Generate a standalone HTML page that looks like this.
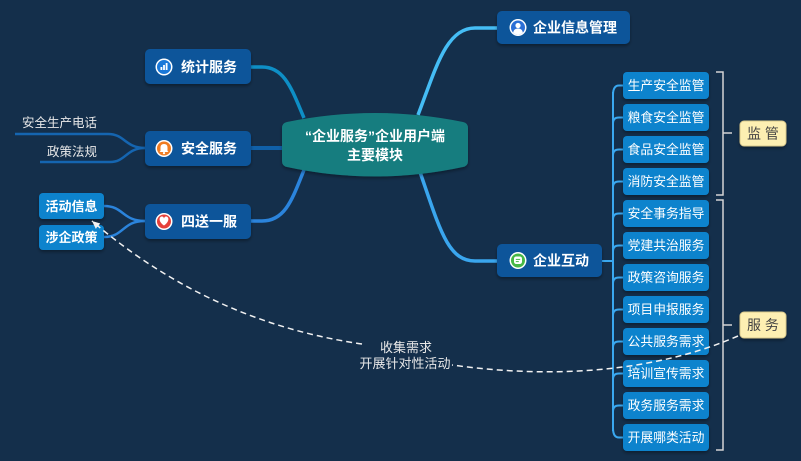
<!DOCTYPE html>
<html><head><meta charset="utf-8"><style>
html,body{margin:0;padding:0;background:#142f4b;}
svg{display:block;}
text{font-family:"Liberation Sans","Noto Sans CJK SC",sans-serif;}
</style></head><body>
<svg width="801" height="461" viewBox="0 0 801 461" xmlns="http://www.w3.org/2000/svg">
<defs>
<filter id="sh" x="-20%" y="-20%" width="140%" height="160%"><feDropShadow dx="0" dy="2" stdDeviation="1.5" flood-color="#000" flood-opacity="0.35"/></filter>
<marker id="arr" markerWidth="10" markerHeight="10" refX="8" refY="3.5" orient="auto" markerUnits="userSpaceOnUse"><path d="M0,0 L8,3.5 L0,7 Z" fill="#f2f2f2"/></marker>
<clipPath id="pc"><circle cx="0" cy="0" r="7"/></clipPath>
</defs>
<rect width="801" height="461" fill="#142f4b"/>

<!-- left connectors -->
<path d="M251,67 L262,67 C285,67 292,90 304,118" fill="none" stroke="#0e8fc6" stroke-width="3.5"/>
<path d="M251,148 L284,148" fill="none" stroke="#1060a8" stroke-width="4"/>
<path d="M251,221 L262,221 C285,221 292,200 304,170" fill="none" stroke="#2b84dc" stroke-width="3.5"/>
<!-- right connectors -->
<path d="M418,115 C436,68 446,28 475,28 L498,28" fill="none" stroke="#45bdf5" stroke-width="3.5"/>
<path d="M420,172 C440,230 448,261 475,261 L498,261" fill="none" stroke="#3aa6ee" stroke-width="3.5"/>

<!-- 安全服务 children lines -->
<path d="M15,134 L108,134 C125,134 125,148 145,148" fill="none" stroke="#1565b0" stroke-width="2.5"/>
<path d="M40,162 L110,162 C126,162 126,148 145,148" fill="none" stroke="#1565b0" stroke-width="2.5"/>
<!-- 四送一服 children lines -->
<path d="M104,206 C124,206 122,221 145,221" fill="none" stroke="#2b84dc" stroke-width="2.5"/>
<path d="M104,237 C124,237 122,221 145,221" fill="none" stroke="#2b84dc" stroke-width="2.5"/>

<!-- right vertical connector -->
<g fill="none" stroke="#3aa8f0" stroke-width="2">
<path d="M602,261 L613,261"/>
<path d="M613,92 L613,431"/>
<path d="M613,95 Q613,85.5 619,85.5 L623,85.5"/>
<path d="M613,123 Q613,117.5 619,117.5 L623,117.5"/>
<path d="M613,155 Q613,149.5 619,149.5 L623,149.5"/>
<path d="M613,187 Q613,181.5 619,181.5 L623,181.5"/>
<path d="M613,219 Q613,213.5 619,213.5 L623,213.5"/>
<path d="M613,251 Q613,245.5 619,245.5 L623,245.5"/>
<path d="M613,283 Q613,277.5 619,277.5 L623,277.5"/>
<path d="M613,315 Q613,309.5 619,309.5 L623,309.5"/>
<path d="M613,347 Q613,341.5 619,341.5 L623,341.5"/>
<path d="M613,379 Q613,373.5 619,373.5 L623,373.5"/>
<path d="M613,411 Q613,405.5 619,405.5 L623,405.5"/>
<path d="M613,428 Q613,437.5 619,437.5 L623,437.5"/>
</g>

<!-- brackets -->
<g fill="none" stroke="#d4d4d4" stroke-width="1.5">
<path d="M716,72 L723,72 L723,195 L716,195"/>
<path d="M723,133 L732,133"/>
<path d="M716,200 L723,200 L723,450 L716,450"/>
<path d="M723,325 L732,325"/>
</g>

<!-- central node -->
<path d="M287,122 Q375,104 463,122 Q468,123 468,128 L468,161 Q468,166 463,167 Q375,186 287,167 Q282,166 282,161 L282,128 Q282,123 287,122 Z" fill="#197d7f" filter="url(#sh)"/>
<text x="375" y="141" font-size="14" font-weight="bold" fill="#fff" text-anchor="middle">“企业服务”企业用户端</text>
<text x="375" y="160" font-size="14" font-weight="bold" fill="#fff" text-anchor="middle">主要模块</text>

<!-- main nodes -->
<g filter="url(#sh)">
<rect x="145" y="49" width="106" height="35" rx="5" fill="#0c559a"/>
<rect x="145" y="131" width="106" height="35" rx="5" fill="#0c559a"/>
<rect x="145" y="204" width="106" height="35" rx="5" fill="#0c559a"/>
<rect x="497" y="11" width="133" height="33" rx="5" fill="#0c559a"/>
<rect x="497" y="244" width="105" height="33" rx="5" fill="#0c559a"/>
</g>
<g font-size="14" font-weight="bold" fill="#fff">
<text x="181" y="72">统计服务</text>
<text x="181" y="153.5">安全服务</text>
<text x="181" y="226.5">四送一服</text>
<text x="533" y="32.5">企业信息管理</text>
<text x="533" y="265.5">企业互动</text>
</g>

<!-- icons -->
<g transform="translate(164,67)">
<circle r="8.5" fill="#fff"/><circle r="7" fill="#1a78d8"/>
<rect x="-3.5" y="0" width="1.8" height="3" fill="#fff"/>
<rect x="-0.9" y="-2" width="1.8" height="5" fill="#fff"/>
<rect x="1.7" y="-4" width="1.8" height="7" fill="#fff"/>
</g>
<g transform="translate(164,148.5)">
<circle r="8.5" fill="#fff"/><circle r="7" fill="#f07c22"/>
<path d="M-3.5,2.5 L-3.5,-1 Q-3.5,-4.5 0,-4.5 Q3.5,-4.5 3.5,-1 L3.5,2.5 L4.5,3.5 L-4.5,3.5 Z" fill="#fff"/>
<circle cx="0" cy="4.6" r="1.1" fill="#fff"/>
</g>
<g transform="translate(164,221.5)">
<circle r="8.5" fill="#fff"/><circle r="7" fill="#e5403a"/>
<path d="M0,4 C-6,0 -5,-5 -2,-5 Q-0.5,-5 0,-3 Q0.5,-5 2,-5 C5,-5 6,0 0,4 Z" fill="#fff"/>
</g>
<g transform="translate(518,27.5)">
<circle r="8.5" fill="#fff"/><circle r="7" fill="#2b6fd6"/>
<g clip-path="url(#pc)"><circle cx="0" cy="-2" r="2.6" fill="#fff"/><path d="M-5,7 Q-5,1 0,1 Q5,1 5,7 Z" fill="#fff"/></g>
</g>
<g transform="translate(518,260.5)">
<circle r="8.5" fill="#fff"/><circle r="7" fill="#46b846"/>
<rect x="-4" y="-4" width="8" height="7.5" rx="2.2" fill="#fff"/>
<rect x="-2.2" y="-1.6" width="4.4" height="1" fill="#46b846"/>
<rect x="-2.2" y="0.6" width="3" height="1" fill="#46b846"/>
</g>

<!-- left sub nodes -->
<g filter="url(#sh)">
<rect x="39" y="193" width="65" height="26" rx="4" fill="#0b83cd"/>
<rect x="39" y="225" width="65" height="25" rx="4" fill="#0b83cd"/>
</g>
<g font-size="13" font-weight="bold" fill="#fff" text-anchor="middle">
<text x="71.5" y="211">活动信息</text>
<text x="71.5" y="242">涉企政策</text>
</g>

<!-- left free text -->
<g font-size="12.5" fill="#e8e8e8">
<text x="22" y="127">安全生产电话</text>
<text x="47" y="156">政策法规</text>
</g>

<!-- right sub nodes -->
<g filter="url(#sh)" fill="#0b83cd">
<rect x="623" y="72" width="86" height="27" rx="4"/>
<rect x="623" y="104" width="86" height="27" rx="4"/>
<rect x="623" y="136" width="86" height="27" rx="4"/>
<rect x="623" y="168" width="86" height="27" rx="4"/>
<rect x="623" y="200" width="86" height="27" rx="4"/>
<rect x="623" y="232" width="86" height="27" rx="4"/>
<rect x="623" y="264" width="86" height="27" rx="4"/>
<rect x="623" y="296" width="86" height="27" rx="4"/>
<rect x="623" y="328" width="86" height="27" rx="4"/>
<rect x="623" y="360" width="86" height="27" rx="4"/>
<rect x="623" y="392" width="86" height="27" rx="4"/>
<rect x="623" y="424" width="86" height="27" rx="4"/>
</g>
<g font-size="12.8" fill="#fff" text-anchor="middle">
<text x="666" y="90">生产安全监管</text>
<text x="666" y="122">粮食安全监管</text>
<text x="666" y="154">食品安全监管</text>
<text x="666" y="186">消防安全监管</text>
<text x="666" y="218">安全事务指导</text>
<text x="666" y="250">党建共治服务</text>
<text x="666" y="282">政策咨询服务</text>
<text x="666" y="314">项目申报服务</text>
<text x="666" y="346">公共服务需求</text>
<text x="666" y="378">培训宣传需求</text>
<text x="666" y="410">政务服务需求</text>
<text x="666" y="442">开展哪类活动</text>
</g>

<!-- labels -->
<g filter="url(#sh)">
<rect x="740" y="121" width="46" height="25" rx="4" fill="#fdefb2" stroke="#d9c98c" stroke-width="1"/>
<rect x="740" y="312" width="46" height="26" rx="4" fill="#fdefb2" stroke="#d9c98c" stroke-width="1"/>
</g>
<g font-size="14" fill="#444" text-anchor="middle">
<text x="763" y="138.5">监 管</text>
<text x="763" y="330">服 务</text>
</g>

<!-- dashed relation -->
<g fill="none" stroke="#f2f2f2" stroke-width="1.5" stroke-dasharray="6,4">
<path d="M738,336 C660,370 560,380 452,365"/>
<path d="M362,344 Q210,322 92,221" marker-end="url(#arr)"/>
</g>
<g font-size="13" fill="#e8e8e8" text-anchor="middle">
<text x="406" y="352">收集需求</text>
<text x="405" y="368">开展针对性活动</text>
</g>
</svg>
</body></html>
